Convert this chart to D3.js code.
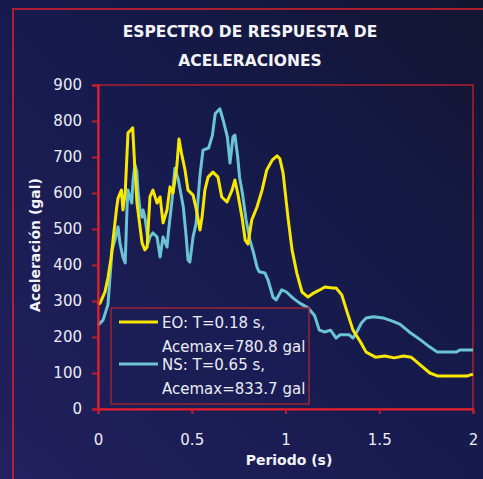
<!DOCTYPE html>
<html>
<head>
<meta charset="utf-8">
<script src="https://cdn.jsdelivr.net/npm/d3@7"></script>
<style>
  body { margin: 0; background: #1a1c4e; }
  svg { display: block; font-family: 'Comic Sans MS', 'DejaVu Sans', sans-serif; }
</style>
</head>
<body>
<div id="chart"></div>
<script>
// EO component: period (s) and acceleration (gal)
const eoPeriod = [0, 0.011, 0.037, 0.053, 0.07, 0.08, 0.1, 0.107, 0.125, 0.133, 0.145, 0.16, 0.175, 0.185, 0.195,
  0.208, 0.224, 0.235, 0.25, 0.262, 0.277, 0.293, 0.315, 0.331, 0.347, 0.368, 0.384, 0.4, 0.42, 0.432, 0.445,
  0.464, 0.48, 0.507, 0.525, 0.544, 0.555, 0.57, 0.587, 0.613, 0.64, 0.66, 0.688, 0.715, 0.73, 0.745, 0.768,
  0.785, 0.8, 0.82, 0.848, 0.875, 0.9, 0.93, 0.955, 0.97, 0.987, 1.013, 1.035, 1.06, 1.088, 1.12, 1.15, 1.18,
  1.21, 1.25, 1.27, 1.3, 1.33, 1.36, 1.4, 1.43, 1.48, 1.53, 1.58, 1.63, 1.67, 1.72, 1.77, 1.81, 1.88, 1.97, 2.0];
const eoAcc = [290, 294, 325, 364, 420, 469, 561, 586, 608, 553, 600, 767, 775, 781, 683,
  572, 506, 461, 442, 450, 589, 608, 572, 589, 517, 553, 617, 600, 672, 750, 711,
  664, 608, 594, 553, 497, 533, 608, 644, 658, 644, 589, 575, 608, 636, 600, 533,
  469, 458, 525, 561, 608, 664, 692, 703, 695, 656, 533, 442, 378, 325, 311, 322, 330,
  339, 336, 336, 317, 267, 219, 186, 158, 144, 147, 142, 147, 144, 122, 100, 92, 92, 92, 97];

// NS component
const nsPeriod = [0, 0.027, 0.053, 0.075, 0.09, 0.107, 0.117, 0.133, 0.145, 0.155, 0.16, 0.18, 0.187, 0.197,
  0.207, 0.213, 0.224, 0.235, 0.24, 0.25, 0.26, 0.267, 0.277, 0.293, 0.315, 0.331, 0.347, 0.368, 0.375, 0.395,
  0.41, 0.427, 0.455, 0.47, 0.48, 0.49, 0.507, 0.523, 0.544, 0.56, 0.59, 0.61, 0.625, 0.65, 0.667, 0.69, 0.704,
  0.72, 0.73, 0.745, 0.755, 0.77, 0.79, 0.81, 0.83, 0.848, 0.86, 0.89, 0.907, 0.933, 0.95, 0.98, 1.005, 1.04,
  1.076, 1.12, 1.155, 1.18, 1.21, 1.24, 1.27, 1.29, 1.34, 1.36, 1.38, 1.405, 1.43, 1.47, 1.52, 1.57, 1.61, 1.66,
  1.72, 1.77, 1.81, 1.91, 1.93, 2.0];
const nsAcc = [233, 247, 290, 442, 469, 506, 461, 422, 406, 561, 608, 572, 636, 678,
  660, 608, 553, 533, 553, 533, 497, 461, 478, 489, 478, 422, 478, 450, 489, 581,
  669, 640, 561, 480, 414, 408, 478, 515, 650, 719, 725, 760, 820, 834, 803, 756, 683,
  756, 761, 700, 644, 600, 525, 470, 433, 394, 381, 378, 358, 311, 303, 331, 325, 308,
  294, 281, 260, 219, 214, 219, 197, 206, 206, 197, 214, 239, 253, 256, 253, 244, 236, 214,
  192, 172, 158, 158, 164, 164];

const yTicks = [0, 100, 200, 300, 400, 500, 600, 700, 800, 900];
const xTicks = [0, 0.5, 1, 1.5, 2];
const xTickLabels = ['0', '0.5', '1', '1.5', '2'];
const titleLines = ['ESPECTRO DE RESPUESTA DE', 'ACELERACIONES'];
const legendLabels = [
  ['EO: T=0.18 s,', 'Acemax=780.8 gal'],
  ['NS: T=0.65 s,', 'Acemax=833.7 gal'],
];
const seriesColors = ['#f8e800', '#6ac4d4'];

const W = 483, H = 479;
const margin = { top: 85, right: 10, bottom: 70, left: 98 },
  width = 473 - margin.left,
  height = 409 - margin.top;

const svg = d3.select('#chart').append('svg').attr('width', W).attr('height', H);

const defs = svg.append('defs');
const grad = defs.append('linearGradient').attr('id', 'bg')
  .attr('x1', 1).attr('y1', 0).attr('x2', 0).attr('y2', 1);
grad.append('stop').attr('offset', 0).attr('stop-color', '#131530');
grad.append('stop').attr('offset', 0.45).attr('stop-color', '#161a4c');
grad.append('stop').attr('offset', 1).attr('stop-color', '#22205e');

svg.append('rect').attr('width', W).attr('height', H).attr('fill', 'url(#bg)');

// outer frame
svg.append('rect')
  .attr('x', 13).attr('y', 9).attr('width', 520).attr('height', 520)
  .attr('fill', 'none').attr('stroke', '#e0202c').attr('stroke-width', 1.5);

// title
svg.selectAll('.title')
  .data(titleLines)
  .enter()
  .append('text')
  .attr('class', 'title')
  .attr('x', 250)
  .attr('y', (d, i) => 37 + i * 29)
  .attr('text-anchor', 'middle')
  .attr('fill', '#f4f4f8')
  .style('font-weight', 'bold')
  .style('font-size', '15.5px')
  .text((d) => d);

const x = d3.scaleLinear().domain([0, 2]).range([0, width]);
const y = d3.scaleLinear().domain([0, 900]).range([height, 0]);

const g = svg.append('g').attr('transform', 'translate(' + margin.left + ',' + margin.top + ')');

// plot frame (top and right sides)
g.append('rect')
  .attr('width', width).attr('height', height)
  .attr('fill', 'none').attr('stroke', '#d8202c').attr('stroke-width', 1.2);

const line = d3.line().x((d) => x(d[0])).y((d) => y(d[1]));
const series = [
  d3.zip(eoPeriod, eoAcc),
  d3.zip(nsPeriod, nsAcc),
];

// NS drawn first so EO sits on top where they cross
[1, 0].forEach((i) => {
  g.append('path')
    .datum(series[i])
    .attr('d', line)
    .attr('fill', 'none')
    .attr('stroke', seriesColors[i])
    .attr('stroke-width', 3)
    .attr('stroke-linejoin', 'round');
});

const yAxis = g.append('g')
  .call(d3.axisLeft(y).tickValues(yTicks).tickSize(6).tickPadding(10));
const xAxis = g.append('g')
  .attr('transform', 'translate(0,' + height + ')')
  .call(d3.axisBottom(x).tickValues(xTicks).tickSize(5).tickPadding(20)
    .tickFormat((d, i) => xTickLabels[i]));

[yAxis, xAxis].forEach((ax) => {
  ax.select('.domain').attr('stroke', '#e8202c').attr('stroke-width', 2);
  ax.selectAll('.tick line').attr('stroke', '#c01c2a').attr('stroke-width', 2);
  ax.selectAll('.tick text')
    .attr('fill', '#ececf4')
    .style('font-size', '15px')
    .style('font-family', "'Comic Sans MS', 'DejaVu Sans', sans-serif");
});

// axis titles
svg.append('text')
  .attr('x', 289).attr('y', 465)
  .attr('text-anchor', 'middle')
  .attr('fill', '#f4f4f8')
  .style('font-weight', 'bold').style('font-size', '14px')
  .text('Periodo (s)');

svg.append('text')
  .attr('transform', 'translate(40,245) rotate(-90)')
  .attr('text-anchor', 'middle')
  .attr('fill', '#f4f4f8')
  .style('font-weight', 'bold').style('font-size', '14px')
  .text('Aceleración (gal)');

// legend
const legend = svg.append('g').attr('transform', 'translate(111,308)');
legend.append('rect')
  .attr('width', 198).attr('height', 96)
  .attr('fill', '#1b1d56').attr('fill-opacity', 0.85)
  .attr('stroke', '#9a2436').attr('stroke-width', 1.5);

const item = legend.selectAll('.item')
  .data(legendLabels)
  .enter()
  .append('g')
  .attr('class', 'item')
  .attr('transform', (d, i) => 'translate(0,' + (14 + i * 42) + ')');
item.append('line')
  .attr('x1', 8).attr('x2', 47)
  .attr('stroke', (d, i) => seriesColors[i])
  .attr('stroke-width', 3);
item.selectAll('text')
  .data((d) => d)
  .enter()
  .append('text')
  .attr('x', 51)
  .attr('y', (d, j) => 6 + j * 24)
  .attr('fill', '#ececf4')
  .style('font-size', '15px')
  .text((d) => d);
</script>
</body>
</html>
